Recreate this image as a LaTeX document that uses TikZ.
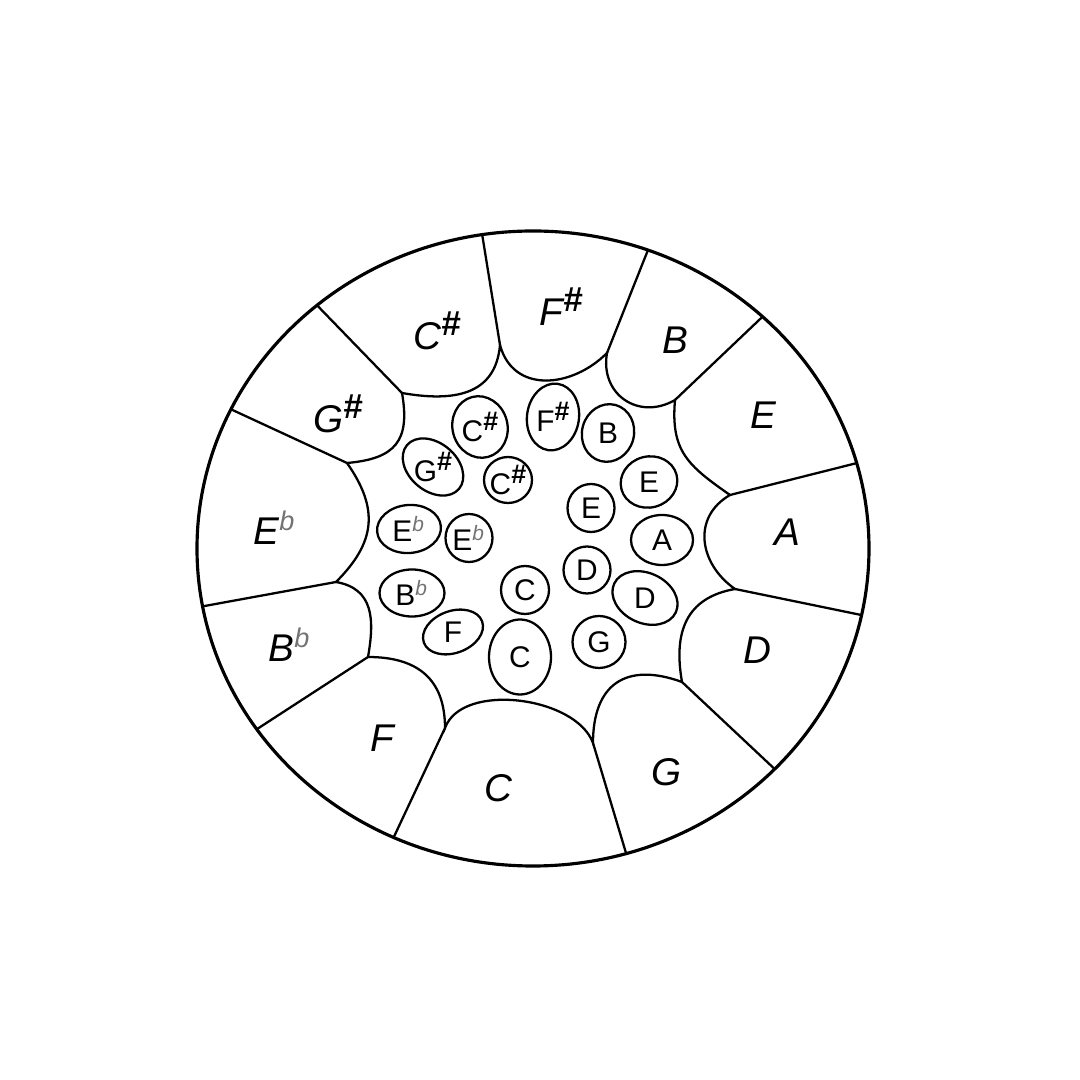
\documentclass[tikz,border=0pt]{standalone}
\usepackage{fontspec}
\usepackage{graphicx}
\setmainfont{Liberation Sans}
\usetikzlibrary{shapes.geometric}

\newcommand{\shp}{\raisebox{.36em}{\scalebox{.9}{\bfseries\#}}}
\newcommand{\flt}{\textsuperscript{\textcolor{black!55}{\itshape b}}}

\tikzstyle{rim} = [line width=0.9pt]
\tikzstyle{seam} = [line width=0.65pt]
\tikzstyle{tone} = [font=\fontsize{11}{13}\selectfont\itshape, inner sep=0pt]
\tikzstyle{hole} = [draw, ellipse, line width=0.65pt, inner sep=0pt]
\tikzstyle{holetext} = [font=\fontsize{8.5}{10}\selectfont, inner sep=0pt]

\begin{document}
\begin{tikzpicture}
\useasboundingbox (-5.33,-5.315) rectangle (5.47,5.485);

% Rim
\draw[rim] (0,0) ellipse [x radius=3.36, y radius=3.175];

% Points on the rim
\coordinate (o1) at (98.7:3.36 and 3.175);
\coordinate (o2) at (70:3.36 and 3.175);
\coordinate (o3) at (46.9:3.36 and 3.175);
\coordinate (o4) at (15.6:3.36 and 3.175);
\coordinate (o5) at (-12.1:3.36 and 3.175);
\coordinate (o6) at (-44:3.36 and 3.175);
\coordinate (o7) at (-73.9:3.36 and 3.175);
\coordinate (o8) at (-114.5:3.36 and 3.175);
\coordinate (o9) at (-145.3:3.36 and 3.175);
\coordinate (o10) at (-169.5:3.36 and 3.175);
\coordinate (o11) at (154:3.36 and 3.175);
\coordinate (o12) at (130:3.36 and 3.175);

% Inner corners
\coordinate (j1) at (-0.33,2.035);
\coordinate (j2) at (0.74,1.955);
\coordinate (j3) at (1.42,1.485);
\coordinate (j4) at (1.97,0.535);
\coordinate (j5) at (2.02,-0.405);
\coordinate (j6) at (1.49,-1.335);
\coordinate (j7) at (0.60,-1.945);
\coordinate (j8) at (-0.88,-1.795);
\coordinate (j9) at (-1.65,-1.085);
\coordinate (j10) at (-1.97,-0.335);
\coordinate (j11) at (-1.86,0.855);
\coordinate (j12) at (-1.31,1.555);

% Seams between the outer fields
\draw[seam] (o1) -- (j1);
\draw[seam] (o2) -- (j2);
\draw[seam] (o3) -- (j3);
\draw[seam] (o4) -- (j4);
\draw[seam] (o5) -- (j5);
\draw[seam] (o6) -- (j6);
\draw[seam] (o7) -- (j7);
\draw[seam] (o8) -- (j8);
\draw[seam] (o9) -- (j9);
\draw[seam] (o10) -- (j10);
\draw[seam] (o11) -- (j11);
\draw[seam] (o12) -- (j12);

% Round ends of the outer fields
\draw[seam] (j12) to[out=-10, in=-95, looseness=1.2] (j1)
  to[out=-75, in=-135, looseness=1.2] (j2)
  to[out=-100, in=-150, looseness=1.3] (j3)
  to[out=-95, in=145, looseness=1.2] (j4)
  to[out=-150, in=145, looseness=1.2] (j5)
  to[out=-170, in=100, looseness=1.2] (j6)
  to[out=160, in=90, looseness=1.4] (j7)
  to[out=110, in=70, looseness=0.85] (j8)
  to[out=90, in=0, looseness=1.2] (j9)
  to[out=80, in=-10, looseness=1.2] (j10)
  to[out=45, in=-55, looseness=1.2] (j11)
  to[out=5, in=-80, looseness=1.4] (j12);

% Outer tones
\node (cisO) [tone] at (-0.955,2.175) {C\shp};
\node (fisO) [tone] at (0.28,2.415) {F\shp};
\node (bO) [tone] at (1.42,2.085) {B};
\node (eO) [tone] at (2.30,1.335) {E};
\node (aO) [tone] at (2.54,0.165) {A};
\node (dO) [tone] at (2.24,-1.015) {D};
\node (gO) [tone] at (1.34,-2.235) {G};
\node (cO) [tone] at (-0.35,-2.395) {C};
\node (fO) [tone] at (-1.51,-1.895) {F};
\node (besO) [tone] at (-2.43,-0.965) {B\flt};
\node (esO) [tone] at (-2.58,0.205) {E\flt};
\node (gisO) [tone] at (-1.95,1.345) {G\shp};

% Inner tone fields
\node (cisA) [hole, minimum width=0.55cm, minimum height=0.62cm, rotate=15] at (-0.53,1.215) {};
\node (fisA) [hole, minimum width=0.52cm, minimum height=0.67cm, rotate=-8] at (0.20,1.315) {};
\node (bA) [hole, minimum width=0.52cm, minimum height=0.58cm, rotate=-15] at (0.75,1.155) {};
\node (gisA) [hole, minimum width=0.68cm, minimum height=0.48cm, rotate=-40] at (-1.0,0.815) {};
\node (cisB) [hole, minimum width=0.48cm, minimum height=0.46cm] at (-0.25,0.685) {};
\node (eA) [hole, minimum width=0.47cm, minimum height=0.48cm] at (0.58,0.405) {};
\node (eB) [hole, minimum width=0.57cm, minimum height=0.51cm, rotate=15] at (1.16,0.665) {};
\node (esA) [hole, minimum width=0.64cm, minimum height=0.48cm, rotate=5] at (-1.24,0.195) {};
\node (esB) [hole, minimum width=0.47cm, minimum height=0.48cm] at (-0.64,0.105) {};
\node (aA) [hole, minimum width=0.62cm, minimum height=0.50cm] at (1.29,0.085) {};
\node (dA) [hole, minimum width=0.47cm, minimum height=0.47cm] at (0.54,-0.215) {};
\node (cA) [hole, minimum width=0.48cm, minimum height=0.48cm] at (-0.08,-0.415) {};
\node (besA) [hole, minimum width=0.65cm, minimum height=0.47cm] at (-1.21,-0.445) {};
\node (dB) [hole, minimum width=0.68cm, minimum height=0.50cm, rotate=-25] at (1.12,-0.495) {};
\node (fA) [hole, minimum width=0.62cm, minimum height=0.42cm, rotate=20] at (-0.80,-0.835) {};
\node (gA) [hole, minimum width=0.53cm, minimum height=0.52cm] at (0.66,-0.935) {};
\node (cB) [hole, minimum width=0.62cm, minimum height=0.75cm] at (-0.13,-1.085) {};

% Inner tone names
\node (cisAt) [holetext] at (cisA) {C\shp};
\node (fisAt) [holetext] at (fisA) {F\shp};
\node (bAt) [holetext] at (bA) {B};
\node (gisAt) [holetext] at (gisA) {G\shp};
\node (cisBt) [holetext] at (cisB) {C\shp};
\node (eAt) [holetext] at (eA) {E};
\node (eBt) [holetext] at (eB) {E};
\node (esAt) [holetext] at (esA) {E\flt};
\node (esBt) [holetext] at (esB) {E\flt};
\node (aAt) [holetext] at (aA) {A};
\node (dAt) [holetext] at (dA) {D};
\node (cAt) [holetext] at (cA) {C};
\node (besAt) [holetext] at (besA) {B\flt};
\node (dBt) [holetext] at (dB) {D};
\node (fAt) [holetext] at (fA) {F};
\node (gAt) [holetext] at (gA) {G};
\node (cBt) [holetext] at (cB) {C};

\end{tikzpicture}
\end{document}
